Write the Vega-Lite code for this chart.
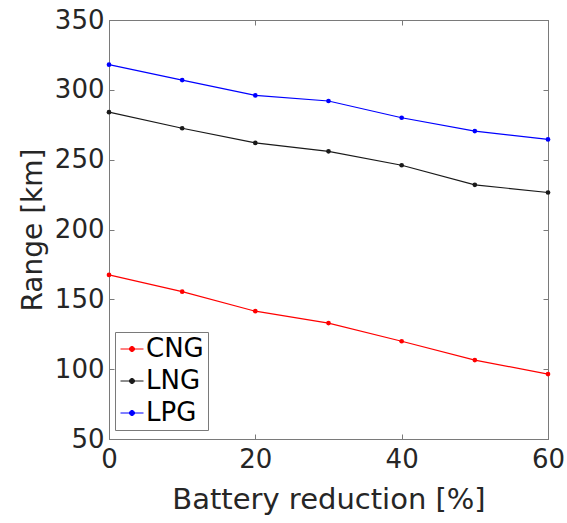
{
  "$schema": "https://vega.github.io/schema/vega-lite/v6.json",
  "width": 439,
  "height": 419,
  "autosize": {"type": "none"},
  "padding": {"left": 109, "top": 20, "right": 19, "bottom": 84},
  "background": "white",
  "config": {
    "view": {"stroke": "#7a7a7a", "strokeWidth": 1},
    "axis": {
      "grid": false,
      "labelFlush": false,
      "labelFont": "DejaVu Sans",
      "titleFont": "DejaVu Sans",
      "labelFontSize": 26,
      "titleFontSize": 28,
      "labelColor": "#262626",
      "titleColor": "#262626",
      "titleFontWeight": "normal",
      "domainColor": "#7a7a7a",
      "tickColor": "#7a7a7a",
      "tickSize": -5
    }
  },
  "data": {
    "values": [
      {"fuel": "CNG", "reduction": 0, "range": 167.5},
      {"fuel": "CNG", "reduction": 10, "range": 155.5},
      {"fuel": "CNG", "reduction": 20, "range": 141.5},
      {"fuel": "CNG", "reduction": 30, "range": 133},
      {"fuel": "CNG", "reduction": 40, "range": 120},
      {"fuel": "CNG", "reduction": 50, "range": 106.5},
      {"fuel": "CNG", "reduction": 60, "range": 96.5},
      {"fuel": "LNG", "reduction": 0, "range": 284},
      {"fuel": "LNG", "reduction": 10, "range": 272.5},
      {"fuel": "LNG", "reduction": 20, "range": 262},
      {"fuel": "LNG", "reduction": 30, "range": 256},
      {"fuel": "LNG", "reduction": 40, "range": 246},
      {"fuel": "LNG", "reduction": 50, "range": 232},
      {"fuel": "LNG", "reduction": 60, "range": 226.5},
      {"fuel": "LPG", "reduction": 0, "range": 318},
      {"fuel": "LPG", "reduction": 10, "range": 307},
      {"fuel": "LPG", "reduction": 20, "range": 296},
      {"fuel": "LPG", "reduction": 30, "range": 292},
      {"fuel": "LPG", "reduction": 40, "range": 280},
      {"fuel": "LPG", "reduction": 50, "range": 270.5},
      {"fuel": "LPG", "reduction": 60, "range": 264.5}
    ]
  },
  "layer": [
    {
      "mark": {"type": "line", "strokeWidth": 1.2, "point": {"filled": true, "size": 22}},
      "encoding": {
        "x": {
          "field": "reduction",
          "type": "quantitative",
          "scale": {"domain": [0, 60], "nice": false},
          "axis": {
            "orient": "bottom",
            "values": [0, 20, 40, 60],
            "labelPadding": 12,
            "title": "Battery reduction [%]",
            "titleFontSize": 29,
            "titleBaseline": "alphabetic",
            "titleY": 69
          }
        },
        "y": {
          "field": "range",
          "type": "quantitative",
          "scale": {"domain": [50, 350], "nice": false},
          "axis": {
            "orient": "left",
            "values": [50, 100, 150, 200, 250, 300, 350],
            "labelPadding": 10,
            "title": "Range [km]",
            "titleBaseline": "alphabetic",
            "titleX": -68
          }
        },
        "color": {
          "field": "fuel",
          "type": "nominal",
          "scale": {"domain": ["CNG", "LNG", "LPG"], "range": ["#ff0000", "#1a1a1a", "#0000ff"]},
          "legend": {
            "orient": "none",
            "legendX": 6,
            "legendY": 312,
            "title": null,
            "symbolType": "M-1,0H1M-0.22,0A0.22,0.22,0,1,0,0.22,0A0.22,0.22,0,1,0,-0.22,0",
            "symbolSize": 529,
            "symbolStrokeWidth": 1,
            "labelFont": "DejaVu Sans",
            "labelFontSize": 26,
            "labelColor": "#000000",
            "strokeColor": "#7a7a7a",
            "fillColor": "white",
            "padding": 4,
            "rowPadding": 6,
            "labelOffset": 1,
            "encode": {"symbols": {"update": {"fill": {"scale": "color", "field": "value"}, "fillOpacity": {"value": 1}}}}
          }
        }
      }
    },
    {
      "mark": {"type": "point", "opacity": 0},
      "encoding": {
        "x": {
          "field": "reduction",
          "type": "quantitative",
          "axis": {"orient": "top", "values": [0, 20, 40, 60], "labels": false, "title": null}
        },
        "y": {
          "field": "range",
          "type": "quantitative",
          "axis": {"orient": "right", "values": [50, 100, 150, 200, 250, 300, 350], "labels": false, "title": null}
        }
      }
    }
  ],
  "resolve": {"axis": {"x": "independent", "y": "independent"}}
}
